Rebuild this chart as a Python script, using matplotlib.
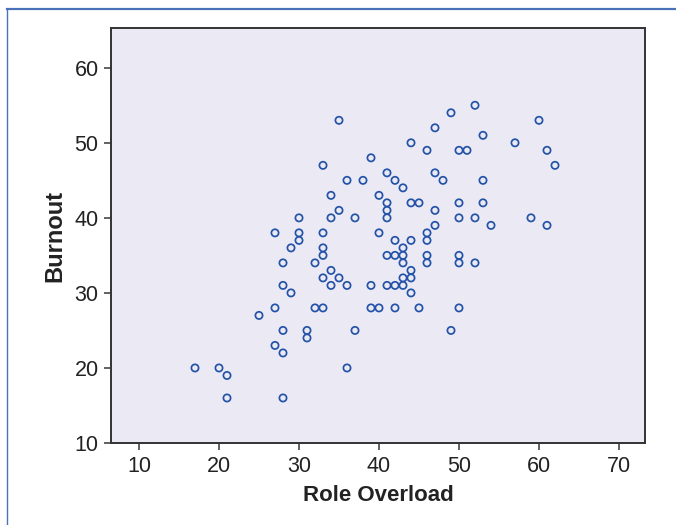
import matplotlib
matplotlib.use("Agg")
import matplotlib.pyplot as plt
from matplotlib.lines import Line2D

role_overload = [35, 33, 39, 36, 38, 34, 40, 35, 30, 34, 37, 27, 30, 30, 33, 40,
                 29, 33, 33, 28, 32, 34, 52, 49, 60, 47, 53, 44, 57, 46, 50, 51,
                 61, 62, 41, 47, 42, 48, 53, 43, 41, 44, 45, 50, 53, 41, 41, 47,
                 50, 52, 59, 54, 61, 47, 46, 46, 42, 44, 43, 41, 42, 43, 46, 50,
                 43, 46, 50, 52, 44, 33, 35, 28, 34, 36, 39, 29, 27, 32, 33, 39,
                 40, 25, 28, 31, 31, 37, 27, 28, 17, 20, 21, 36, 21, 28, 43, 44,
                 41, 42, 43, 44, 42, 45, 50, 49]
burnout = [53, 47, 48, 45, 45, 43, 43, 41, 40, 40, 40, 38, 38, 37, 38, 38,
           36, 36, 35, 34, 34, 33, 55, 54, 53, 52, 51, 50, 50, 49, 49, 49,
           49, 47, 46, 46, 45, 45, 45, 44, 42, 42, 42, 42, 42, 41, 40, 41,
           40, 40, 40, 39, 39, 39, 38, 37, 37, 37, 36, 35, 35, 35, 35, 35,
           34, 34, 34, 34, 33, 32, 32, 31, 31, 31, 31, 30, 28, 28, 28, 28,
           28, 27, 25, 25, 24, 25, 23, 22, 20, 20, 19, 20, 16, 16, 32, 32,
           31, 31, 31, 30, 28, 28, 28, 25]

x_ticks = [10, 20, 30, 40, 50, 60, 70]
y_ticks = [10, 20, 30, 40, 50, 60]

plt.rcParams['font.family'] = ['Liberation Sans', 'DejaVu Sans']

fig = plt.figure(figsize=(6.76, 5.25), dpi=100)
ax = fig.add_axes([111 / 676, 1 - 443 / 525, (645 - 111) / 676, (443 - 28) / 525])
ax.set_facecolor('#ebeaf4')

ax.scatter(role_overload, burnout, s=27, facecolors='none', edgecolors='#2352a8',
           linewidths=1.25, zorder=3)

ax.set_xlim(6.5, 73.25)
ax.set_ylim(10, 65.3)
ax.set_xticks(x_ticks)
ax.set_yticks(y_ticks)
ax.tick_params(axis='both', direction='out', length=5, width=1.3, color='#555555',
               labelsize=15.5, labelcolor='#222222', pad=4)

for side in ax.spines.values():
    side.set_color('#333333')
    side.set_linewidth(1.4)

ax.set_xlabel('Role Overload', fontsize=16, fontweight='bold', color='#222222', labelpad=6)
ax.set_ylabel('Burnout', fontsize=17, fontweight='bold', color='#222222', labelpad=6)

# thin blue frame along the top and left edge of the figure
fig.add_artist(Line2D([7 / 676, 1], [1 - 9 / 525, 1 - 9 / 525], color='#4a72b8', linewidth=1.6))
fig.add_artist(Line2D([7 / 676, 7 / 676], [0, 1 - 9 / 525], color='#4a72b8', linewidth=1.0))

plt.savefig('out.png', dpi=100)
